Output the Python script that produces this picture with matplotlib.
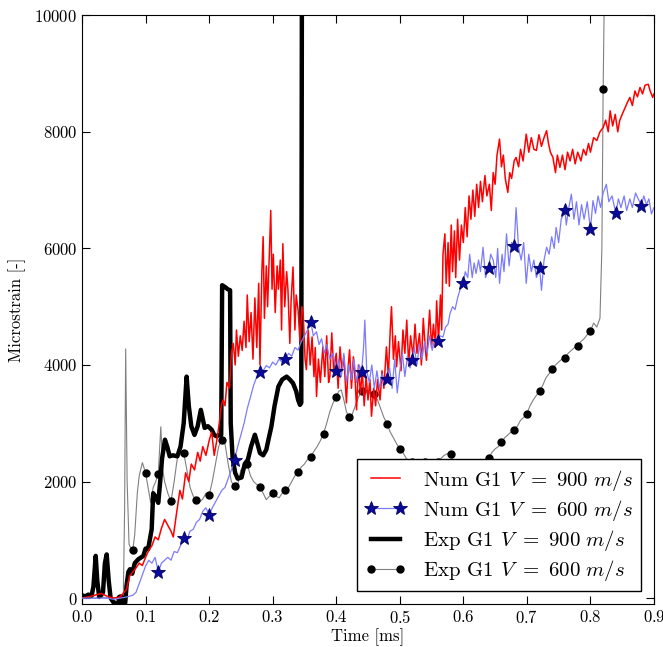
import numpy as np
import matplotlib
matplotlib.use("Agg")
import matplotlib.pyplot as plt

plt.rcParams['font.family'] = 'serif'
plt.rcParams['font.serif'] = ['cmr10', 'DejaVu Serif']
plt.rcParams['mathtext.fontset'] = 'cm'
plt.rcParams['axes.formatter.use_mathtext'] = True
plt.rcParams['axes.unicode_minus'] = False

# ---- Num G1, V = 900 m/s (red) ----
num900_t = [0.0, 0.01, 0.02, 0.03, 0.04, 0.05, 0.06, 0.07, 0.075, 0.08, 0.085, 0.09, 0.095,
            0.1, 0.105, 0.11, 0.115, 0.12, 0.125, 0.13, 0.135, 0.14, 0.1436, 0.148, 0.154, 0.158,
            0.163, 0.168, 0.172, 0.177, 0.182, 0.186, 0.19, 0.195, 0.2, 0.204, 0.208, 0.212, 0.216,
            0.219, 0.222, 0.225, 0.228, 0.232, 0.235, 0.238, 0.241, 0.243, 0.246, 0.249, 0.252,
            0.255, 0.258, 0.26, 0.263, 0.266, 0.269, 0.272, 0.275, 0.278, 0.28, 0.283, 0.285,
            0.287, 0.29, 0.292, 0.295, 0.297, 0.299, 0.301, 0.304, 0.307, 0.309, 0.312, 0.314,
            0.316, 0.319, 0.322, 0.324, 0.327, 0.329, 0.332, 0.335, 0.337, 0.34, 0.343, 0.346,
            0.348, 0.351, 0.353, 0.356, 0.359, 0.362, 0.365, 0.367, 0.369, 0.372, 0.375, 0.379,
            0.382, 0.385, 0.388, 0.39, 0.393, 0.396, 0.4, 0.403, 0.406, 0.409, 0.412, 0.416,
            0.419, 0.421, 0.424, 0.427, 0.43, 0.432, 0.435, 0.438, 0.441, 0.444, 0.447, 0.45,
            0.453, 0.4555, 0.459, 0.462, 0.465, 0.469, 0.472, 0.475, 0.479, 0.482, 0.485, 0.487,
            0.49, 0.493, 0.495, 0.498, 0.502, 0.505, 0.508, 0.511, 0.514, 0.517, 0.521, 0.524,
            0.527, 0.531, 0.534, 0.537, 0.54, 0.542, 0.545, 0.547,
            0.55, 0.553, 0.556, 0.558, 0.561, 0.564, 0.566, 0.568, 0.571, 0.573, 0.576, 0.578,
            0.581, 0.583, 0.586, 0.588, 0.591, 0.594, 0.597, 0.6, 0.603, 0.606, 0.609, 0.612,
            0.615, 0.618, 0.621, 0.624, 0.627, 0.63, 0.634, 0.637, 0.641, 0.644, 0.647, 0.65,
            0.653, 0.657, 0.66, 0.663, 0.666, 0.67, 0.673, 0.676, 0.68, 0.683, 0.687, 0.69,
            0.694, 0.699, 0.703, 0.707, 0.711, 0.715, 0.719, 0.723, 0.727, 0.731, 0.734, 0.737,
            0.741, 0.745, 0.748, 0.752, 0.756, 0.76, 0.764,
            0.768, 0.772, 0.776, 0.78, 0.785, 0.789, 0.793, 0.797, 0.8, 0.805, 0.81, 0.815, 0.82,
            0.824, 0.828, 0.831, 0.835, 0.839, 0.843, 0.846, 0.85, 0.854, 0.858, 0.862, 0.866,
            0.87, 0.874, 0.878, 0.882, 0.886, 0.891, 0.894, 0.898, 0.9]
num900_y = [0, 20, 50, 80, 30, 0, 20, 150, 380, 450, 520, 600, 560,
            700, 820, 900, 1050, 1000, 1200, 1350, 1250, 1150, 1050, 1400, 1850, 1700,
            2150, 2000, 2300, 2200, 2500, 2350, 2600, 2450, 2700, 2850, 2450, 2700, 3000,
            3300, 3400, 3300, 3700, 3600, 4200, 4370, 4000, 4600, 4150, 4500, 4250,
            4750, 4300, 5200, 4400, 4900, 4100, 5150, 4300, 5400, 4000, 5600, 6200,
            4800, 5700, 5000, 6000, 6650, 5300, 5900, 4900, 5700, 5300, 5800, 4600,
            6080, 5000, 5600, 5300, 4370, 5100, 5680, 4600, 5200, 4940, 4400, 5000,
            4880, 4100, 3920, 4600, 4000, 4480, 3800, 4300, 3460, 4100, 3700, 4310,
            3800, 4500, 3700, 3800, 4550, 3900, 4200, 3600, 4310, 3900, 4150, 3350,
            4000, 4260, 3600, 4140, 3700, 3230, 4000, 3500, 3900, 3300, 3800, 3400,
            3750, 3120, 3600, 3300, 3750, 3400, 3900, 3600, 4310, 3800, 4600, 5000,
            4100, 4500, 3970, 4400, 3900, 4600, 4200, 4770, 4000, 4500, 4140, 4700,
            4200, 4540, 4000, 4800, 4300, 4080, 4600, 4940,
            4300, 4700, 4300, 5100, 4400, 5200, 4600, 5900, 6250, 5400, 6100, 5350,
            6400, 5600, 6300, 5500, 6500, 5800, 6400, 6100, 6700, 6200, 6900, 6500,
            7000, 6550, 7100, 6700, 7150, 6800, 7250, 6900, 7100, 6650, 7300, 7100,
            7600, 7875, 7400, 7600, 7200, 6960, 7300, 7200, 7500, 7560, 7400, 7700,
            7500, 7960, 7650, 7900, 7700, 7680, 7950, 7750, 7900, 8020, 7800, 7650,
            7560, 7300, 7600, 7390, 7600, 7350, 7650,
            7500, 7700, 7450, 7650, 7500, 7700, 7600, 7800, 7650, 7900, 7850, 8000, 8070,
            8200, 8000, 8360, 8100, 8300, 8000, 8190, 8300, 8400, 8500, 8590, 8450,
            8700, 8600, 8760, 8650, 8800, 8815, 8700, 8590, 8650]

# ---- Num G1, V = 600 m/s (blue with stars) ----
num600_t = [0.0, 0.03, 0.04, 0.05, 0.06, 0.07, 0.08, 0.085, 0.09, 0.095, 0.1, 0.105, 0.11,
            0.115, 0.12, 0.125, 0.13, 0.135, 0.14, 0.145, 0.15, 0.155, 0.16, 0.165, 0.17,
            0.175, 0.18, 0.185, 0.19, 0.195, 0.2, 0.205, 0.21, 0.215, 0.22, 0.225, 0.23,
            0.235, 0.24, 0.245, 0.25, 0.255, 0.26, 0.265, 0.27, 0.275, 0.28, 0.285, 0.29,
            0.295, 0.3, 0.305, 0.31, 0.315, 0.32, 0.325, 0.33, 0.335, 0.34, 0.345, 0.35,
            0.355, 0.36, 0.364, 0.369, 0.373, 0.377, 0.381, 0.385, 0.39, 0.395, 0.4, 0.404,
            0.408, 0.412, 0.416, 0.42, 0.424, 0.428, 0.432, 0.436, 0.44, 0.443, 0.445, 0.448,
            0.452, 0.456, 0.46, 0.464, 0.468, 0.472, 0.476, 0.48, 0.484, 0.488, 0.492, 0.496,
            0.5, 0.504, 0.508, 0.512, 0.516, 0.52, 0.523, 0.527, 0.531, 0.535, 0.539, 0.543,
            0.547, 0.551, 0.555, 0.56, 0.563, 0.568, 0.572, 0.576, 0.579, 0.583, 0.587,
            0.591, 0.595, 0.6, 0.603, 0.607, 0.61, 0.614, 0.617, 0.62, 0.624, 0.627, 0.631,
            0.635, 0.64, 0.643, 0.647, 0.651, 0.654, 0.657, 0.661, 0.664, 0.668, 0.672,
            0.676, 0.68, 0.683, 0.687, 0.691, 0.695, 0.699, 0.703, 0.707, 0.711, 0.715,
            0.72, 0.723, 0.727, 0.731, 0.735, 0.739, 0.743, 0.746, 0.75, 0.754, 0.76,
            0.762, 0.766, 0.77, 0.774, 0.778, 0.782, 0.786, 0.79, 0.795, 0.8, 0.804, 0.808,
            0.812, 0.816, 0.82, 0.825, 0.829, 0.834, 0.84, 0.844, 0.848, 0.853, 0.857,
            0.862, 0.866, 0.871, 0.88, 0.884, 0.888, 0.892, 0.896, 0.9]
num600_y = [0, 0, 0, -20, 0, 20, 50, 100, 250, 400, 550, 650, 600,
            700, 450, 600, 650, 700, 650, 800, 780, 900, 1026, 1000, 1150,
            1180, 1300, 1350, 1490, 1550, 1424, 1550, 1650, 1750, 1850, 1900, 2050,
            2200, 2376, 2600, 2800, 3000, 3250, 3450, 3650, 3800, 3874, 3900, 3990,
            3950, 4050, 4000, 4100, 4050, 4097, 4200, 4150, 4300, 4256, 4400, 4500,
            4600, 4740, 4500, 4570, 4350, 4450, 4200, 4350, 4100, 4200, 3903, 4100,
            3800, 4200, 3700, 4000, 3750, 4100, 3700, 4000, 3886, 4300, 4770, 3900,
            3700, 4000, 3600, 3900, 3600, 3850, 3650, 3755, 3950, 3600, 4100, 3520,
            3900, 4200, 3800, 4150, 3950, 4085, 4300, 4000, 4350, 4100, 4400, 4200,
            4500, 4250, 4450, 4405, 4500, 4480, 4650, 4700, 4880, 5000, 4950,
            5150, 5300, 5407, 5600, 5500, 5900, 5500, 5750, 5570, 5800, 5600, 6020,
            5500, 5670, 5900, 5800, 5500, 6000, 5400, 5900, 5600, 6250, 5700,
            6100, 6046, 6700, 6000, 5800, 6100, 5400, 5900, 5600, 5800, 5500,
            5658, 5280, 5800, 6020, 5900, 6200, 6000, 6360, 6100, 6500, 6655,
            6400, 6700, 6930, 6500, 6800, 6400, 6750, 6500, 6800, 6325, 6820, 6600,
            6900, 6700, 6950, 7100, 6800, 6900, 6599, 6850, 6700, 6900, 6650,
            6850, 6700, 6950, 6735, 6900, 6750, 6850, 6590, 6700]
star_t = [0.12, 0.16, 0.2, 0.24, 0.28, 0.32, 0.36, 0.4, 0.44, 0.48, 0.52,
          0.56, 0.6, 0.64, 0.68, 0.72, 0.76, 0.8, 0.84, 0.88]

# ---- Exp G1, V = 900 m/s (thick black) ----
exp900_t = [0.0, 0.005, 0.01, 0.015, 0.018, 0.0215, 0.024, 0.027, 0.03, 0.033, 0.036, 0.0388,
            0.042, 0.045, 0.05, 0.06, 0.068, 0.07, 0.073, 0.0755, 0.079, 0.083, 0.0886, 0.0965,
            0.1, 0.104, 0.1096, 0.112, 0.115, 0.12, 0.123, 0.126, 0.1305, 0.134, 0.138, 0.143,
            0.15, 0.155, 0.16, 0.1646, 0.168, 0.172, 0.177, 0.182, 0.187, 0.193, 0.198, 0.204,
            0.208, 0.212, 0.216, 0.219, 0.2205, 0.226, 0.229, 0.233, 0.234, 0.237, 0.241, 0.245,
            0.251, 0.256, 0.261, 0.266, 0.272, 0.276, 0.28, 0.285, 0.29, 0.294, 0.298, 0.303,
            0.309, 0.315, 0.322, 0.327, 0.332, 0.337, 0.34, 0.343, 0.345, 0.346]
exp900_y = [50, 30, 60, 40, 200, 725, 300, 20, 50, 100, 600, 750,
            300, 0, -80, -80, -80, 210, 450, 496, 420, 600, 667, 724,
            850, 838, 1180, 1800, 1750, 1635, 2000, 2400, 2718, 2600, 2433, 2450,
            2433, 2600, 3000, 3800, 3300, 2946, 2800, 2950, 3230, 2920, 2950, 2890,
            2800, 2775, 2800, 2800, 5368, 5330, 5300, 5282, 3000, 2400, 2150, 2050,
            2070, 2300, 2376, 2600, 2803, 2650, 2490, 2450, 2547, 2750, 2946, 3300,
            3630, 3750, 3800, 3750, 3687, 3550, 3402, 3316, 3350, 10500]

# ---- Exp G1, V = 600 m/s (grey with dots) ----
exp600_t = [0.0, 0.01, 0.02, 0.03, 0.04, 0.05, 0.06, 0.065, 0.067, 0.0687, 0.071, 0.074, 0.077,
            0.08, 0.083, 0.087, 0.09, 0.095, 0.1, 0.104, 0.108, 0.112, 0.116, 0.12, 0.124,
            0.127, 0.13, 0.135, 0.14, 0.145, 0.149, 0.153, 0.156, 0.16, 0.165, 0.17, 0.175,
            0.18, 0.185, 0.19, 0.195, 0.2, 0.205, 0.21, 0.215, 0.22, 0.225, 0.23, 0.235, 0.24,
            0.245, 0.25, 0.255, 0.26, 0.265, 0.27, 0.275, 0.28, 0.285, 0.29, 0.295, 0.3, 0.305,
            0.31, 0.315, 0.32, 0.325, 0.33, 0.335, 0.34, 0.345, 0.35, 0.355, 0.36, 0.365, 0.37,
            0.375, 0.38, 0.385, 0.39, 0.395, 0.4, 0.404, 0.408, 0.412, 0.416, 0.42, 0.425, 0.43,
            0.435, 0.44, 0.445, 0.45, 0.455, 0.46, 0.465, 0.47, 0.475, 0.48, 0.485, 0.49, 0.495,
            0.5, 0.505, 0.51, 0.515, 0.52, 0.53, 0.54, 0.55, 0.56, 0.565, 0.57, 0.575, 0.58,
            0.585, 0.59, 0.6, 0.61, 0.62, 0.63, 0.635, 0.64, 0.645, 0.65, 0.655, 0.66, 0.665,
            0.67, 0.675, 0.68, 0.685, 0.69, 0.695, 0.7, 0.705, 0.71, 0.715, 0.72, 0.725, 0.73,
            0.735, 0.74, 0.745, 0.75, 0.755, 0.76, 0.765, 0.77, 0.775, 0.78, 0.785, 0.79, 0.795,
            0.8, 0.805, 0.81, 0.815, 0.818, 0.82, 0.822]
exp600_y = [0, 10, 0, 20, 0, 10, 0, 50, 1500, 4274, 2000, 923, 850,
            825, 1100, 1800, 2100, 2325, 2150, 1900, 1640, 1900, 2000, 2137, 2940,
            2200, 2000, 1800, 1660, 2000, 2325, 2600, 2450, 2495, 2200, 1900, 1750,
            1680, 1650, 1700, 1800, 1765, 2000, 2300, 2600, 2718, 2650, 2300, 2000, 1920,
            1950, 2200, 2250, 2300, 2100, 2000, 1950, 1915, 1800, 1690, 1750, 1806, 1750,
            1720, 1800, 1858, 1900, 2000, 2100, 2166, 2250, 2300, 2380, 2422, 2520, 2600,
            2700, 2820, 3000, 3200, 3350, 3452, 3550, 3573, 3400, 3200, 3100, 3150, 3300,
            3450, 3545, 3600, 3550, 3480, 3500, 3400, 3250, 3100, 2987, 2850, 2750, 2650,
            2564, 2500, 2400, 2350, 2337, 2320, 2330, 2320, 2330, 2400, 2450, 2480, 2473,
            2300, 2100, 2000, 1950, 2000, 2150, 2250, 2400, 2500, 2560, 2600, 2670, 2750,
            2800, 2850, 2888, 2950, 3050, 3100, 3162, 3300, 3400, 3480, 3555, 3650, 3780,
            3850, 3931, 4000, 4050, 4100, 4125, 4200, 4250, 4300, 4330, 4400, 4450, 4520,
            4580, 4720, 4650, 4800, 6000, 8730, 10500]

xticks = [0.0, 0.1, 0.2, 0.3, 0.4, 0.5, 0.6, 0.7, 0.8, 0.9]
yticks = [0, 2000, 4000, 6000, 8000, 10000]

num600_t = np.array(num600_t)
star_idx = [int(np.argmin(np.abs(num600_t - s))) for s in star_t]
exp600_t = np.array(exp600_t)
dot_t = np.round(np.arange(0.06, 0.821, 0.02), 2)
dot_idx = [int(np.argmin(np.abs(exp600_t - s))) for s in dot_t]

fig = plt.figure(figsize=(6.63, 6.47), dpi=100)
ax = fig.add_axes([0.1237, 0.0665, 0.8627, 0.910])

ax.plot(num900_t, num900_y, color='red', lw=1.1,
        label=r'Num G1 $V\ =\ 900\ m/s$', zorder=3)
ax.plot(num600_t, num600_y, color='#7b7bff', lw=0.9, marker='*',
        markersize=10, markerfacecolor='#0a0a9a', markeredgecolor='#000060',
        markeredgewidth=0.6, markevery=star_idx,
        label=r'Num G1 $V\ =\ 600\ m/s$', zorder=4)
ax.plot(exp900_t, exp900_y, color='black', lw=3.2,
        label=r'Exp G1 $V\ =\ 900\ m/s$', zorder=2)
ax.plot(exp600_t, exp600_y, color='0.5', lw=0.8, marker='o', markersize=5,
        markerfacecolor='black', markeredgecolor='black', markevery=dot_idx,
        label=r'Exp G1 $V\ =\ 600\ m/s$', zorder=1)

ax.set_xlim(0, 0.9)
ax.set_ylim(-100, 10000)
ax.set_xticks(xticks)
ax.set_yticks(yticks)
ax.tick_params(direction='in', top=True, right=True, length=6, labelsize=12)
ax.set_xlabel('Time [ms]', fontsize=12, labelpad=2)
ax.set_ylabel('Microstrain [-]', fontsize=12, labelpad=6)

leg = ax.legend(loc='lower right', fontsize=15, numpoints=2, fancybox=False,
                framealpha=1, edgecolor='black', borderaxespad=0.6,
                handlelength=2.0, labelspacing=0.25, borderpad=0.4)
leg.get_frame().set_linewidth(1.0)

fig.savefig('out.png', dpi=100)
